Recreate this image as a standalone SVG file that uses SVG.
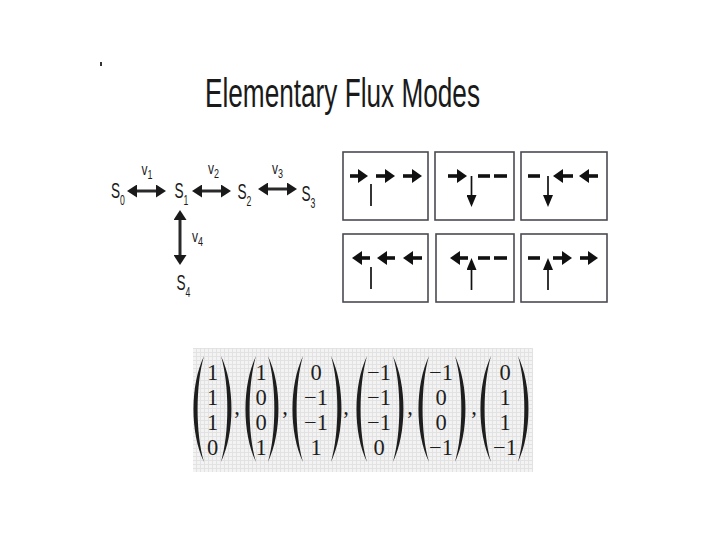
<svg xmlns="http://www.w3.org/2000/svg" width="720" height="540" viewBox="0 0 720 540">
<style>
.lbl{font-family:"Liberation Sans",Arial,sans-serif;fill:#1a1a1a}
.net{stroke:#2a2a2a;stroke-width:3;fill:none}
.pa{stroke:#111;stroke-width:3.6;fill:none}
.thin{stroke:#111;stroke-width:1.7;fill:none}
.box{fill:#fff;stroke:#4a4a52;stroke-width:1.6}
.num{font-family:"Liberation Serif","Times New Roman",serif;font-size:22.5px;fill:#1e1e1e;text-anchor:middle}
.par{fill:#1e1e1e}
</style>
<defs>
<marker id="nh" viewBox="0 0 10 13" refX="0" refY="6.5" markerWidth="10" markerHeight="13" orient="auto-start-reverse" markerUnits="userSpaceOnUse"><path d="M0,0 L10,6.5 L0,13 Z" fill="#1a1a1a"/></marker>
<marker id="ph" viewBox="0 0 10 14" refX="0" refY="7" markerWidth="10" markerHeight="14" orient="auto" markerUnits="userSpaceOnUse"><path d="M0,0 L10,7 L0,14 Z" fill="#111"/></marker>
<marker id="vh" viewBox="0 0 12 10" refX="0" refY="5" markerWidth="12" markerHeight="10" orient="auto" markerUnits="userSpaceOnUse"><path d="M0,0 L12,5 L0,10 Z" fill="#111"/></marker>
<path id="lp" d="M11,0 C-3,29 -3,77 11,106 C2.5,77 2.5,29 11,0 Z"/>
<path id="rp" d="M0,0 C14,29 14,77 0,106 C8.5,77 8.5,29 0,0 Z"/>
<pattern id="grid" width="4" height="4" patternUnits="userSpaceOnUse"><rect width="4" height="4" fill="#f3f3f3"/><path d="M0,0.5 H4 M0.5,0 V4" stroke="#e2e2e2" stroke-width="1"/></pattern>
</defs>
<rect width="720" height="540" fill="#fff"/>
<rect x="100" y="62" width="2" height="4" fill="#333"/>
<text class="lbl" x="205" y="107" font-size="40" textLength="275" lengthAdjust="spacingAndGlyphs">Elementary Flux Modes</text>

<g id="connectors">
<g id="v1"><line class="net" x1="137" y1="191" x2="156" y2="191" marker-start="url(#nh)" marker-end="url(#nh)"/><text class="lbl" font-size="16" transform="translate(141.5,175) scale(0.75,1)">v<tspan font-size="12" dy="4">1</tspan></text></g>
<g id="v2"><line class="net" x1="202" y1="191" x2="221" y2="191" marker-start="url(#nh)" marker-end="url(#nh)"/><text class="lbl" font-size="16" transform="translate(208,174) scale(0.75,1)">v<tspan font-size="12" dy="4">2</tspan></text></g>
<g id="v3"><line class="net" x1="268" y1="189" x2="287" y2="189" marker-start="url(#nh)" marker-end="url(#nh)"/><text class="lbl" font-size="16" transform="translate(272,174) scale(0.75,1)">v<tspan font-size="12" dy="4">3</tspan></text></g>
<g id="v4"><line class="net" x1="180" y1="220" x2="180" y2="255" stroke-width="2" marker-start="url(#nh)" marker-end="url(#nh)"/><text class="lbl" font-size="16" transform="translate(192,242) scale(0.75,1)">v<tspan font-size="12" dy="4">4</tspan></text></g>
</g>

<g id="S0"><text class="lbl" font-size="22" transform="translate(111,198) scale(0.62,1)">S<tspan font-size="14" dy="7">0</tspan></text></g>
<g id="S1"><text class="lbl" font-size="22" transform="translate(174.5,198) scale(0.62,1)">S<tspan font-size="14" dy="6.5">1</tspan></text></g>
<g id="S2"><text class="lbl" font-size="22" transform="translate(237.5,199) scale(0.62,1)">S<tspan font-size="14" dy="7">2</tspan></text></g>
<g id="S3"><text class="lbl" font-size="22" transform="translate(301.5,201) scale(0.62,1)">S<tspan font-size="14" dy="6.5">3</tspan></text></g>
<g id="S4"><text class="lbl" font-size="22" transform="translate(176.5,290) scale(0.62,1)">S<tspan font-size="14" dy="6.5">4</tspan></text></g>

<g id="mode1"><rect class="box" x="343" y="152" width="85" height="68"/>
<line class="pa" x1="350" y1="176" x2="358" y2="176" marker-end="url(#ph)"/>
<line class="pa" x1="376" y1="176" x2="385" y2="176" marker-end="url(#ph)"/>
<line class="pa" x1="403" y1="176" x2="412" y2="176" marker-end="url(#ph)"/>
<line class="thin" x1="371" y1="184" x2="371" y2="206"/></g>

<g id="mode2"><rect class="box" x="435" y="152" width="79" height="68"/>
<line class="pa" x1="448" y1="176" x2="457" y2="176" marker-end="url(#ph)"/>
<line class="pa" x1="478" y1="176" x2="490" y2="176"/>
<line class="pa" x1="494" y1="176" x2="507" y2="176"/>
<line class="thin" x1="471.5" y1="176" x2="471.5" y2="195" marker-end="url(#vh)"/></g>

<g id="mode3"><rect class="box" x="521" y="152" width="86" height="68"/>
<line class="pa" x1="528" y1="176" x2="540" y2="176"/>
<line class="pa" x1="573" y1="176" x2="563" y2="176" marker-end="url(#ph)"/>
<line class="pa" x1="598" y1="176" x2="589" y2="176" marker-end="url(#ph)"/>
<line class="thin" x1="548" y1="176" x2="548" y2="195" marker-end="url(#vh)"/></g>

<g id="mode4"><rect class="box" x="343" y="234" width="85" height="68"/>
<line class="pa" x1="370" y1="258" x2="362" y2="258" marker-end="url(#ph)"/>
<line class="pa" x1="395" y1="258" x2="387" y2="258" marker-end="url(#ph)"/>
<line class="pa" x1="422" y1="258" x2="413" y2="258" marker-end="url(#ph)"/>
<line class="thin" x1="371" y1="267" x2="371" y2="289"/></g>

<g id="mode5"><rect class="box" x="436" y="234" width="78" height="68"/>
<line class="pa" x1="468" y1="258" x2="460" y2="258" marker-end="url(#ph)"/>
<line class="pa" x1="478" y1="258" x2="490" y2="258"/>
<line class="pa" x1="494" y1="258" x2="507" y2="258"/>
<line class="thin" x1="471.5" y1="290" x2="471.5" y2="270" marker-end="url(#vh)"/></g>

<g id="mode6"><rect class="box" x="521" y="234" width="86" height="68"/>
<line class="pa" x1="528" y1="258" x2="540" y2="258"/>
<line class="pa" x1="553" y1="258" x2="562" y2="258" marker-end="url(#ph)"/>
<line class="pa" x1="580" y1="258" x2="588" y2="258" marker-end="url(#ph)"/>
<line class="thin" x1="548" y1="290" x2="548" y2="270" marker-end="url(#vh)"/></g>

<g id="vectors">
<rect x="193" y="348" width="340" height="124" fill="url(#grid)"/>
<g class="par">
<use href="#lp" x="193" y="356"/><use href="#rp" x="221" y="356"/>
<use href="#lp" x="245" y="356"/><use href="#rp" x="268" y="356"/>
<use href="#lp" x="292" y="356"/><use href="#rp" x="331" y="356"/>
<use href="#lp" x="356" y="356"/><use href="#rp" x="393" y="356"/>
<use href="#lp" x="418" y="356"/><use href="#rp" x="455" y="356"/>
<use href="#lp" x="480" y="356"/><use href="#rp" x="518" y="356"/>
</g>
<g class="num">
<text x="212.5" y="380">1</text><text x="212.5" y="405">1</text><text x="212.5" y="430">1</text><text x="212.5" y="455">0</text>
<text x="261" y="380">1</text><text x="261" y="405">0</text><text x="261" y="430">0</text><text x="261" y="455">1</text>
<text x="316" y="380">0</text><text x="316" y="405">−1</text><text x="316" y="430">−1</text><text x="316" y="455">1</text>
<text x="379" y="380">−1</text><text x="379" y="405">−1</text><text x="379" y="430">−1</text><text x="379" y="455">0</text>
<text x="441" y="380">−1</text><text x="441" y="405">0</text><text x="441" y="430">0</text><text x="441" y="455">−1</text>
<text x="505" y="380">0</text><text x="505" y="405">1</text><text x="505" y="430">1</text><text x="505" y="455">−1</text>
<text x="237" y="414">,</text><text x="285" y="414">,</text><text x="346" y="414">,</text><text x="410" y="414">,</text><text x="474" y="414">,</text>
</g>
</g>
</svg>
